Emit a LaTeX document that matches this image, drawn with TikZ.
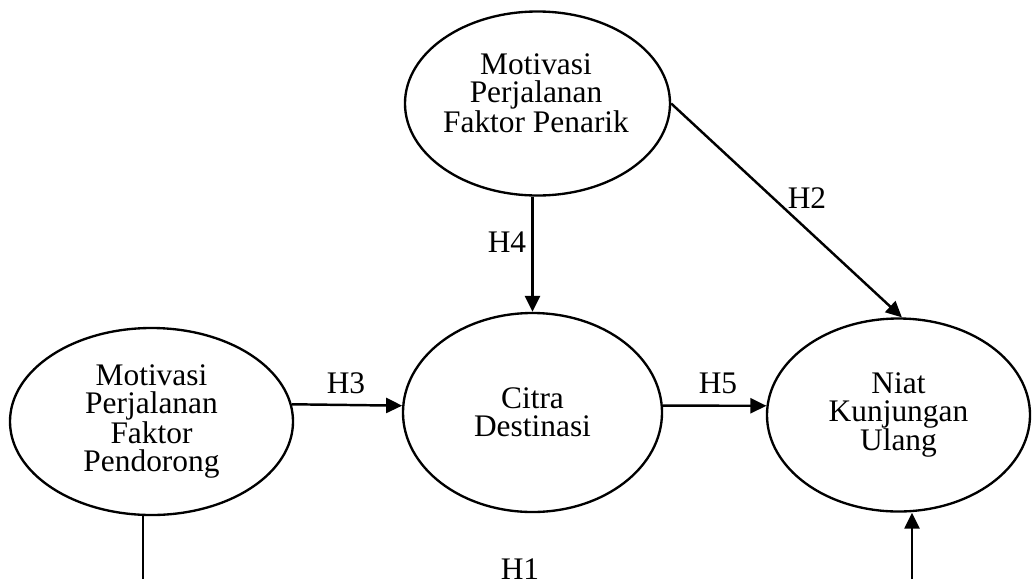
\documentclass[tikz,border=0pt]{standalone}
\usepackage{fontspec}
\setmainfont{Liberation Serif}
\usepackage{tikz}
\usetikzlibrary{arrows.meta, shapes.geometric}

\begin{document}
\begin{tikzpicture}[x=0.03cm, y=-0.03cm,
    konstruk/.style={draw, ellipse, line width=2pt, inner sep=0pt, align=center, font=\fontsize{26.8}{24}\selectfont},
    teks/.style={align=center, font=\fontsize{26.8}{24}\selectfont},
    panah/.style={-{Triangle[length=0.48cm, width=0.45cm]}, line width=2.1pt},
    garis/.style={line width=2.1pt}]

\useasboundingbox (0,0) rectangle (1033,579);

% variables

\node[konstruk, minimum width=7.95cm, minimum height=5.52cm] (pen) at (537.5,103.5) {};
\node[teks] (pen-teks) at (536,93) {Motivasi\\Perjalanan\\Faktor Penarik};

\node[konstruk, minimum width=8.49cm, minimum height=5.61cm] (pend) at (151.5,421.5) {Motivasi\\Perjalanan\\Faktor\\Pendorong};
\node[konstruk, minimum width=7.77cm, minimum height=5.97cm] (citra) at (532.5,412.5) {Citra\\Destinasi};
\node[konstruk, minimum width=7.89cm, minimum height=5.79cm] (niat) at (898.5,415) {Niat\\Kunjungan\\Ulang};

% ends at the lower edge
\coordinate (pbot) at (143,579);
\coordinate (nbot) at (912,579);

% hypotheses

\draw [panah] (pend.7) -- (citra.177);
\draw [panah] (citra.3) -- (niat.176);
\draw [panah] (citra.north |- pen.south) -- (citra.north);
\draw [panah] (pen.east) -- (niat.88);
\draw [garis] (pbot |- pend.south) -- (pbot);
\draw [panah] (nbot) -- (nbot |- niat.south);

% labels

\node[teks] (h1) at (520,569) {H1};
\node[teks] (h2) at (807,198) {H2};
\node[teks] (h3) at (346,383) {H3};
\node[teks] (h4) at (507,242) {H4};
\node[teks] (h5) at (718,383) {H5};

\end{tikzpicture}
\end{document}
